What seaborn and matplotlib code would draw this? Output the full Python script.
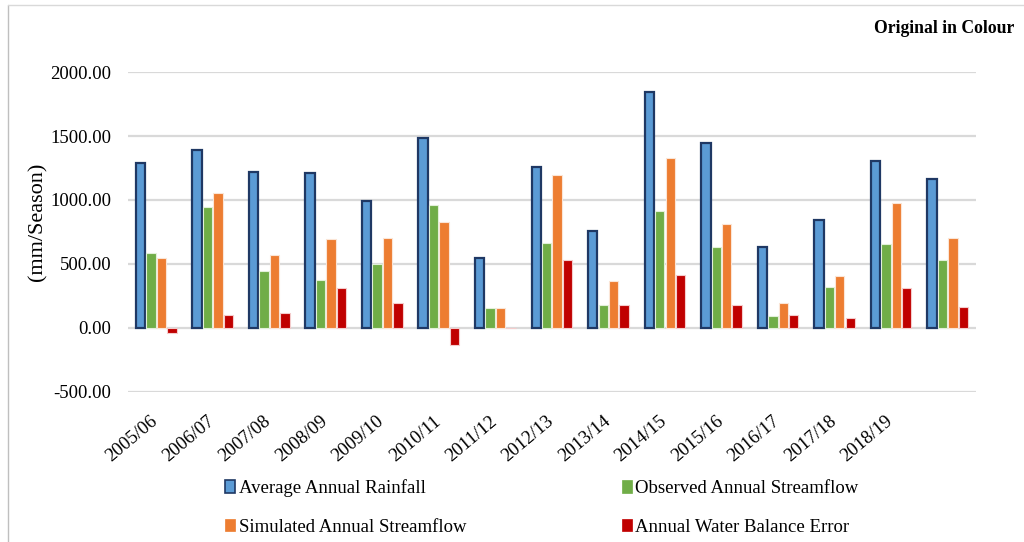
import seaborn as sns
import pandas as pd
import matplotlib.pyplot as plt
import matplotlib.transforms as mtrans
from matplotlib.patches import Patch
from matplotlib.lines import Line2D

seasons = ['2005/06', '2006/07', '2007/08', '2008/09', '2009/10', '2010/11',
           '2011/12', '2012/13', '2013/14', '2014/15', '2015/16', '2016/17',
           '2017/18', '2018/19', '2019/20']
# the last group has no label in the original
tick_labels = seasons[:-1] + ['']

rainfall = [1291, 1390, 1219, 1211, 990, 1487, 549, 1258, 755, 1841, 1443, 635, 844, 1302, 1162]
observed = [588, 945, 448, 375, 500, 958, 154, 664, 182, 914, 633, 94, 323, 656, 531]
simulated = [544, 1052, 568, 693, 706, 826, 154, 1195, 367, 1328, 812, 195, 404, 974, 700]
wb_error = [-40, 102, 115, 315, 195, -133, 0, 531, 182, 411, 177, 102, 80, 315, 167]

series = ['Average Annual Rainfall', 'Observed Annual Streamflow',
          'Simulated Annual Streamflow', 'Annual Water Balance Error']
colors = ['#5B9BD5', '#70AD47', '#ED7D31', '#C00000']
edges = ['#1F3864', '#E2F0D9', '#FBE5D6', '#F4CCCC']

df = pd.DataFrame({
    'Season': seasons * 4,
    'Value': rainfall + observed + simulated + wb_error,
    'Series': [s for s in series for _ in seasons],
})

sns.set_theme(style='white')
plt.rcParams['font.family'] = ['Liberation Serif', 'DejaVu Serif']
plt.rcParams['text.color'] = 'black'
plt.rcParams['xtick.color'] = 'black'
plt.rcParams['ytick.color'] = 'black'
plt.rcParams['axes.labelcolor'] = 'black'

fig = plt.figure(figsize=(10.24, 5.42), dpi=100)
ax = fig.add_axes([0.125, 0.277, 0.828, 0.590])

sns.barplot(data=df, x='Season', y='Value', hue='Series', hue_order=series,
            palette=colors, saturation=1, width=0.74, gap=0.1, legend=False, ax=ax)

for cont, ec in zip(ax.containers, edges):
    for bar in cont:
        bar.set_edgecolor(ec)
        bar.set_linewidth(1.6 if ec == '#1F3864' else 0.8)

yt = [-500, 0, 500, 1000, 1500, 2000]
ax.set_ylim(-500, 2000)
ax.set_yticks(yt)
ax.set_yticklabels([f'{v:.2f}' for v in yt], fontsize=13.5)
ax.set_xlim(-0.5, len(seasons) - 0.5)
ax.set_xticks(range(len(seasons)))
ax.set_xticklabels(tick_labels, rotation=40, ha='right', rotation_mode='anchor', fontsize=13.5)
ax.tick_params(axis='x', pad=15, length=0)
ax.tick_params(axis='y', pad=12, length=0)
shift = mtrans.ScaledTranslation(-0.06, 0, fig.dpi_scale_trans)
for lab in ax.get_xticklabels():
    lab.set_transform(lab.get_transform() + shift)
ax.grid(axis='y', color='#D9D9D9', linewidth=1.6)
ax.set_axisbelow(True)
for sp in ax.spines.values():
    sp.set_visible(False)
ax.set_xlabel('')
ax.set_ylabel('(mm/Season)', fontsize=16)
ax.yaxis.set_label_coords(-0.0955, 0.531)

# legend, two columns filled column-wise
order = [0, 2, 1, 3]
handles = [Patch(facecolor=colors[i], edgecolor=edges[i] if i == 0 else colors[i],
                 linewidth=1.2 if i == 0 else 0.5) for i in order]
fig.legend(handles, [series[i] for i in order], ncol=2, loc='center',
           bbox_to_anchor=(0.529, 0.064), frameon=False, fontsize=13.5,
           handlelength=0.53, handleheight=0.65, handletextpad=0.2,
           columnspacing=8.3, labelspacing=1.15)

fig.text(0.991, 0.948, 'Original in Colour', ha='right', va='center',
         fontsize=12.7, fontweight='bold')
fig.add_artist(Line2D([0.008, 0.008], [0, 0.99], color='#BFBFBF', linewidth=1,
                      transform=fig.transFigure))
fig.add_artist(Line2D([0.008, 1.0], [0.99, 0.99], color='#D9D9D9', linewidth=1,
                      transform=fig.transFigure))

fig.savefig('out.png', dpi=100)
